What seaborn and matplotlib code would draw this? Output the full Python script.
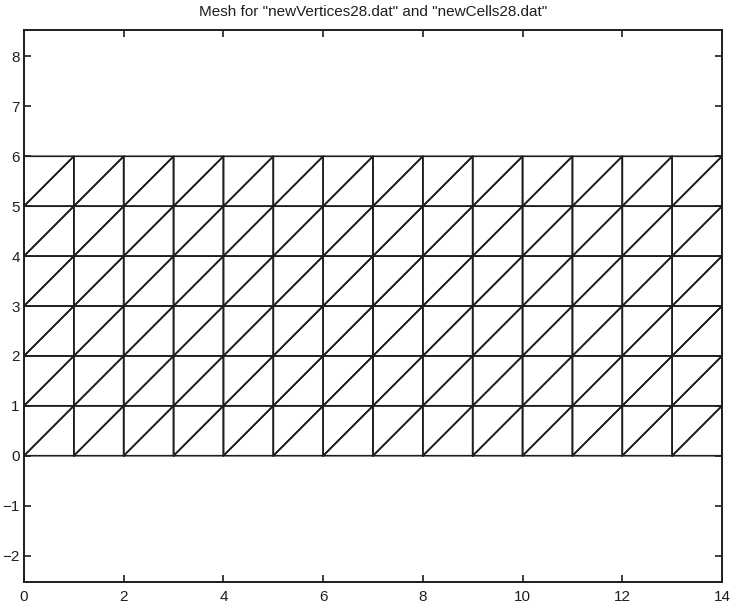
import numpy as np
import pandas as pd
import matplotlib
matplotlib.use("Agg")
import matplotlib.pyplot as plt
import seaborn as sns

# Mesh node coordinates (grid) and title
x_nodes = [0, 1, 2, 3, 4, 5, 6, 7, 8, 9, 10, 11, 12, 13, 14]
y_nodes = [0, 1, 2, 3, 4, 5, 6]
x_ticks = [0, 2, 4, 6, 8, 10, 12, 14]
y_ticks = [-2, -1, 0, 1, 2, 3, 4, 5, 6, 7, 8]
title = 'Mesh for "newVertices28.dat" and "newCells28.dat"'

# Build triangle cells: each square split by diagonal bottom-left -> top-right
rows = []
uid = 0
for i in range(len(x_nodes) - 1):
    for j in range(len(y_nodes) - 1):
        x0, x1 = x_nodes[i], x_nodes[i + 1]
        y0, y1 = y_nodes[j], y_nodes[j + 1]
        for tri in ([(x0, y0), (x1, y0), (x1, y1)], [(x0, y0), (x1, y1), (x0, y1)]):
            for k, (px, py) in enumerate(tri + [tri[0]]):
                rows.append({"x": px, "y": py, "cell": uid, "order": k})
            uid += 1
df = pd.DataFrame(rows)

sns.set_theme(style="ticks")
plt.rcParams['font.family'] = ['Liberation Sans', 'DejaVu Sans']

fig = plt.figure(figsize=(7.37, 6.07), dpi=100)
ax = fig.add_axes([24 / 737, 1 - 582 / 607, 698 / 737, 552 / 607])

sns.lineplot(data=df, x="x", y="y", units="cell", estimator=None, sort=False,
             color="#1e1e1e", linewidth=1.2, ax=ax, legend=False)

ax.set_xlim(0, 14)
ax.set_ylim(-2.53, 8.53)
ax.set_xticks(x_ticks)
ax.set_yticks(y_ticks)
ax.set_xticklabels([str(t) for t in x_ticks])
ax.set_yticklabels([str(t).replace('-', '\u2212') for t in y_ticks])
ax.set_xlabel("")
ax.set_ylabel("")
ax.tick_params(direction="in", length=5, width=1.2, colors="#1e1e1e",
               labelsize=11, top=True, right=True)
ax.tick_params(axis="x", pad=6)
ax.tick_params(axis="y", pad=3)
for s in ax.spines.values():
    s.set_visible(True)
    s.set_linewidth(1.4)
    s.set_color("#1e1e1e")
ax.set_title(title, fontsize=11, pad=10, color="#1e1e1e")

fig.savefig("out.png", dpi=100)
